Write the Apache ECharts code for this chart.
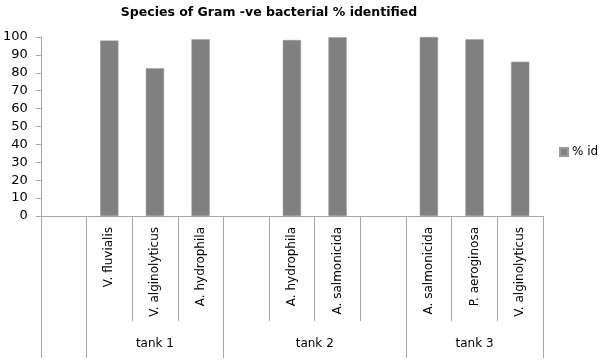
<!DOCTYPE html>
<html>
<head>
<meta charset="utf-8">
<script src="https://cdn.jsdelivr.net/npm/echarts@6/dist/echarts.min.js"></script>
<style>
  html, body { margin: 0; padding: 0; background: #fff; }
  #chart { width: 599px; height: 360px; }
</style>
</head>
<body>
<div id="chart"></div>
<script>
// species per slot (empty slots keep the group spacing)
const species = ["", "V. fluvialis", "V. alginolyticus", "A. hydrophila", "",
  "A. hydrophila", "A. salmonicida", "", "A. salmonicida", "P. aeroginosa", "V. alginolyticus"];
const pctId = [null, 98, 82.5, 98.7, null, 98.3, 99.8, null, 100, 98.7, 86.2];

// tank groups: name + start/end slot index
const tankNames = ["tank 1", "tank 2", "tank 3"];
const tankStart = [1, 4, 8];
const tankEnd = [4, 8, 11];

const yTicks = [0, 10, 20, 30, 40, 50, 60, 70, 80, 90, 100];

const font = "DejaVu Sans";
const lineColor = "#a6a6a6";

let myChart = echarts.init(document.getElementById("chart"));

const tankTicks = [0].concat(tankStart, [tankEnd[tankEnd.length - 1]]);
const tankCenters = tankNames.map((n, i) => (tankStart[i] + tankEnd[i]) / 2);

let option = {
  animation: false,
  title: {
    text: "Species of Gram -ve bacterial % identified",
    left: 264,
    textAlign: "center",
    top: 1,
    textStyle: { fontFamily: font, fontSize: 12.5, fontWeight: "bold", color: "#000" }
  },
  legend: {
    data: ["% id"],
    left: 559,
    top: 146,
    padding: 0,
    icon: "rect",
    itemWidth: 8,
    itemHeight: 8,
    itemGap: 4,
    textStyle: { fontFamily: font, fontSize: 12, color: "#000", padding: [0, 0, 0, -1] }
  },
  grid: { left: 40, right: 56, top: 37, bottom: 144 },
  xAxis: [
    {
      type: "category",
      data: species,
      axisLine: { show: true, lineStyle: { color: lineColor } },
      axisTick: { show: true, interval: 0, length: 105, lineStyle: { color: lineColor } },
      axisLabel: {
        interval: 0,
        rotate: 90,
        margin: 11,
        fontFamily: font,
        fontSize: 12,
        color: "#000"
      }
    },
    {
      type: "value",
      position: "bottom",
      min: 0,
      max: species.length,
      splitLine: { show: false },
      axisLine: { show: false },
      axisTick: { show: true, customValues: tankTicks, length: 142, lineStyle: { color: lineColor } },
      axisLabel: {
        customValues: tankCenters,
        margin: 122,
        fontFamily: font,
        fontSize: 12,
        color: "#000",
        formatter: function (v) {
          let i = tankCenters.indexOf(v);
          return i >= 0 ? tankNames[i] : "";
        }
      }
    }
  ],
  yAxis: {
    type: "value",
    min: 0,
    max: 100,
    interval: 10,
    axisLine: { show: true, lineStyle: { color: lineColor } },
    axisTick: { show: true, length: 5, lineStyle: { color: lineColor } },
    splitLine: { show: false },
    axisLabel: {
      margin: 13,
      fontFamily: font,
      fontSize: 13,
      color: "#000",
      customValues: yTicks
    }
  },
  series: [
    {
      name: "% id",
      type: "bar",
      data: pctId,
      barWidth: "40%",
      itemStyle: { color: "#808080", borderColor: "#9a9a9a", borderWidth: 0.5 }
    }
  ]
};

myChart.setOption(option);
</script>
</body>
</html>
